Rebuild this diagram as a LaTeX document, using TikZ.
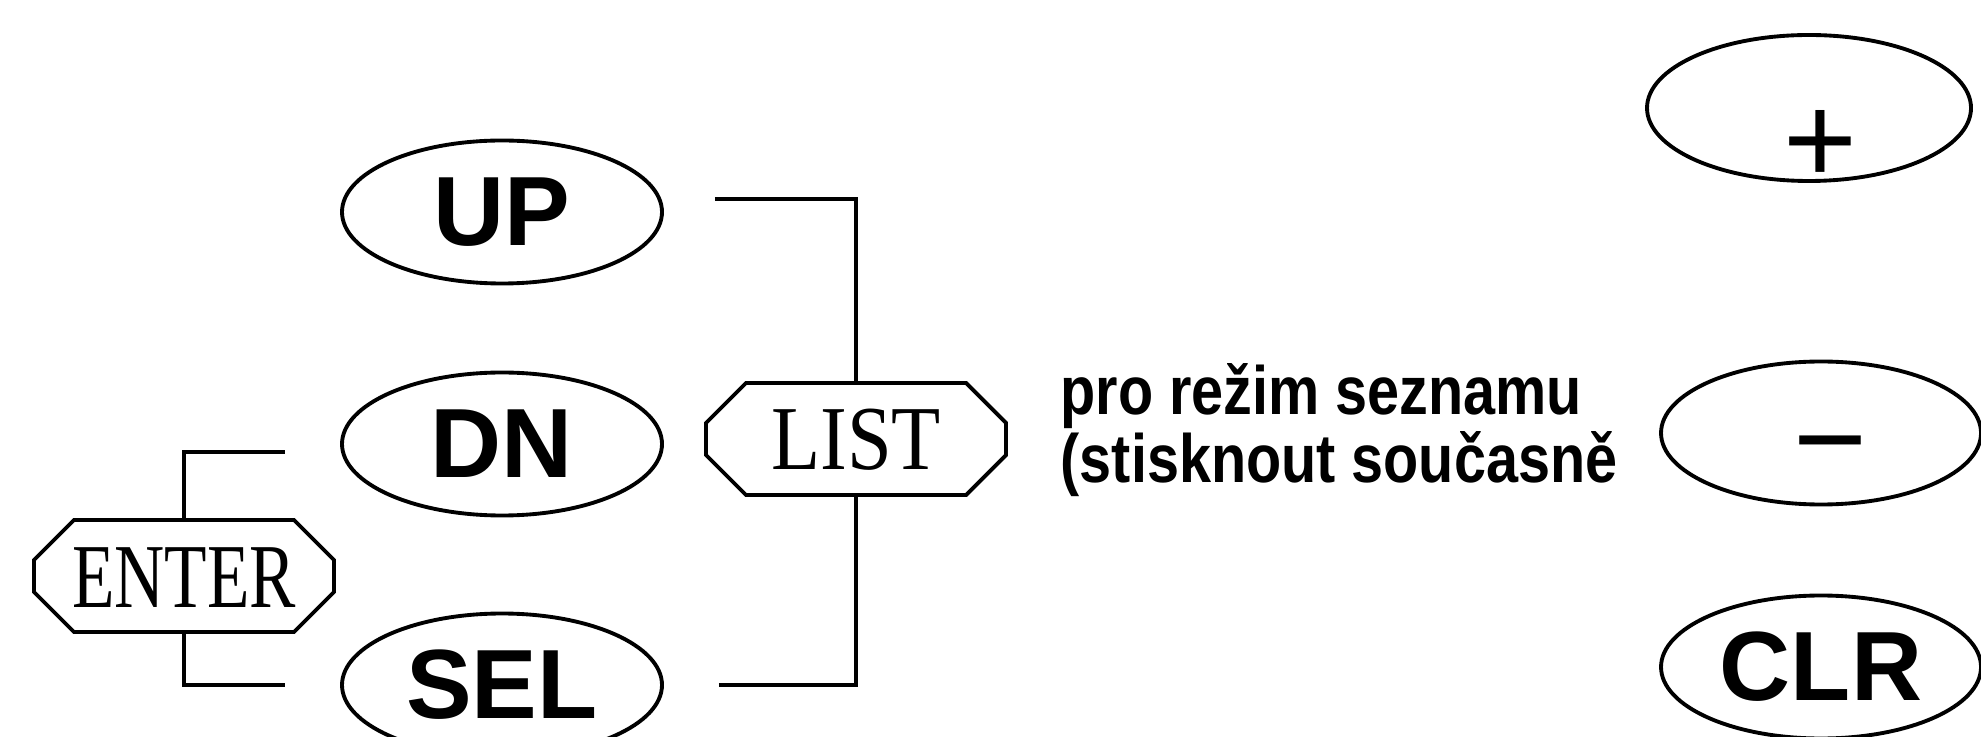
\documentclass[tikz,border=0pt]{standalone}
\usepackage{fontspec}
\setmainfont{Liberation Serif}
\setsansfont{Liberation Sans}
\newfontfamily\keyfont{Liberation Sans}
\usepackage{tikz}
\usetikzlibrary{shapes.geometric, shapes.misc, calc}

\begin{document}
\begin{tikzpicture}[
  key/.style={draw, ellipse, line width=1.1pt, minimum width=3.2cm, minimum height=1.43cm, inner sep=0pt, font=\keyfont\bfseries\fontsize{28}{28}\selectfont},
  sign/.style={font=\keyfont\fontsize{36}{36}\selectfont},
  pad/.style={draw, chamfered rectangle, chamfered rectangle xsep=0.2cm, chamfered rectangle ysep=0.2cm, line width=1.1pt, inner xsep=0.05cm, inner ysep=0.05cm, text width=2.5cm, align=center, text height=0.62cm, text depth=0cm, font=\rmfamily\fontsize{26}{26}\selectfont},
  wire/.style={line width=1.1pt},
  note/.style={font=\sffamily\bfseries\fontsize{18}{16}\selectfont, align=left, inner sep=0pt}
]
\useasboundingbox (0,0) rectangle (19.81,7.36);

% Left keys
\node[key] (up) at (5.02, 5.24) {UP};
\node[key] (dn) at (5.02, 2.92) {DN};
\node[key] (sel) at (5.02, 0.51) {SEL};

% Combined keys
\node[pad] (enter) at (1.84, 1.60) {\scalebox{0.76}[1]{ENTER}};
\node[pad] (list) at (8.56, 2.97) {\scalebox{0.88}[1]{LIST}};

% Brackets
\draw[wire] ([xshift=0.51cm, yshift=0.13cm]up.east) -| (list.north);
\draw[wire] ([xshift=0.55cm]sel.east) -| (list.south);
\draw[wire] (enter.north) |- ([xshift=-0.55cm, yshift=-0.08cm]dn.west);
\draw[wire] (enter.south) |- ([xshift=-0.55cm]sel.west);

% Note
\node[note, anchor=west] (hint) at (10.6, 3.06) {\scalebox{0.91}[1.08]{pro režim seznamu}\\\scalebox{0.91}[1.08]{(stisknout současně}};

% Right keys
\node[key, minimum width=3.24cm, minimum height=1.46cm, sign] (plus) at (18.09, 6.28) {\hspace*{0.22cm}\smash{\raisebox{-0.76cm}{+}}};
\node[key, sign] (minus) at (18.21, 3.03) {\hspace*{0.18cm}\smash{\raisebox{-0.50cm}{−}}};
\node[key] (clr) at (18.21, 0.69) {CLR};

\end{tikzpicture}
\end{document}
